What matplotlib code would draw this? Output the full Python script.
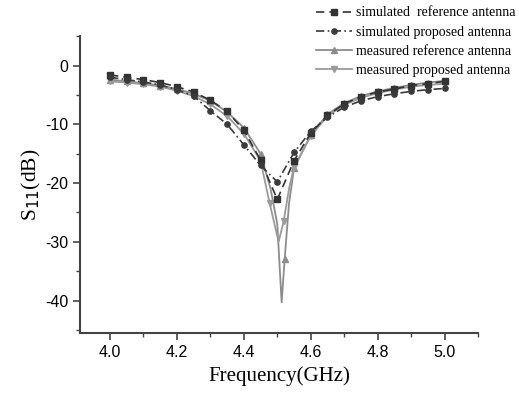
import matplotlib
matplotlib.use("Agg")
import matplotlib.pyplot as plt
from matplotlib.ticker import MultipleLocator

plt.rcParams["axes.unicode_minus"] = False

# Simulated data (0.05 GHz step)
freq_sim = [4.00, 4.05, 4.10, 4.15, 4.20, 4.25, 4.30, 4.35, 4.40, 4.45, 4.50,
            4.55, 4.60, 4.65, 4.70, 4.75, 4.80, 4.85, 4.90, 4.95, 5.00]
sim_ref = [-1.6, -2.0, -2.4, -2.9, -3.6, -4.5, -5.9, -7.8, -11.0, -16.1, -22.8,
           -16.2, -11.5, -8.5, -6.5, -5.3, -4.5, -4.0, -3.4, -3.1, -2.7]
sim_prop = [-2.0, -2.4, -2.8, -3.3, -4.1, -5.2, -7.7, -10.0, -13.5, -17.0, -19.8,
            -14.8, -11.2, -8.8, -7.1, -6.0, -5.3, -4.8, -4.4, -4.1, -3.9]

# Measured data
freq_meas_ref = [4.00, 4.05, 4.10, 4.15, 4.20, 4.25, 4.30, 4.35, 4.40, 4.45, 4.48,
                 4.50, 4.513, 4.522, 4.535, 4.55, 4.60, 4.65, 4.70, 4.75, 4.80,
                 4.85, 4.90, 4.95, 5.00]
meas_ref = [-2.4, -2.7, -3.0, -3.4, -4.0, -4.8, -6.0, -7.9, -10.6, -15.0, -21.0,
            -27.0, -40.3, -33.0, -23.5, -17.5, -11.8, -8.3, -6.4, -5.2, -4.4,
            -3.8, -3.3, -2.9, -2.6]
meas_ref_markers = [0, 1, 2, 3, 4, 5, 6, 7, 8, 9, 13, 15, 16, 17, 18, 19, 20, 21, 22, 23, 24]

freq_meas_prop = [4.00, 4.05, 4.10, 4.15, 4.20, 4.25, 4.30, 4.35, 4.40, 4.45, 4.477,
                  4.504, 4.519, 4.535, 4.55, 4.60, 4.65, 4.70, 4.75, 4.80,
                  4.85, 4.90, 4.95, 5.00]
meas_prop = [-2.7, -2.9, -3.2, -3.6, -4.3, -5.2, -6.6, -8.6, -11.6, -16.2, -23.4,
             -30.0, -26.5, -21.0, -17.3, -12.0, -8.6, -6.7, -5.5, -4.7,
             -4.1, -3.6, -3.3, -3.1]
meas_prop_markers = [0, 1, 2, 3, 4, 5, 6, 7, 8, 10, 12, 14, 15, 16, 17, 18, 19, 20, 21, 22, 23]

labels = ["simulated  reference antenna", "simulated proposed antenna",
          "measured reference antenna", "measured proposed antenna"]

fig = plt.figure(figsize=(5.19, 3.93), dpi=100)
ax = fig.add_axes([0.154, 0.153, 0.767, 0.755])

ax.plot(freq_meas_ref, meas_ref, color="#8c8c8c", lw=1.3, marker="^", ms=4,
        markevery=meas_ref_markers, label=labels[2], zorder=2)
ax.plot(freq_meas_prop, meas_prop, color="#9a9a9a", lw=1.3, marker="v", ms=4,
        markevery=meas_prop_markers, label=labels[3], zorder=2)
ax.plot(freq_sim, sim_ref, color="#333333", lw=1.2, ls=(0, (5, 3)), marker="s",
        ms=3.8, label=labels[0], zorder=3)
ax.plot(freq_sim, sim_prop, color="#3a3a3a", lw=1.2, ls=(0, (5, 2, 1, 2)), marker="o",
        ms=3.8, label=labels[1], zorder=3)

ax.set_xlim(3.91, 5.1)
ax.set_ylim(-45.5, 5)
ax.xaxis.set_major_locator(MultipleLocator(0.2))
ax.xaxis.set_minor_locator(MultipleLocator(0.1))
ax.yaxis.set_major_locator(MultipleLocator(10))
ax.yaxis.set_minor_locator(MultipleLocator(5))
ax.set_xticks([4.0, 4.2, 4.4, 4.6, 4.8, 5.0])
ax.set_xticklabels(["4.0", "4.2", "4.4", "4.6", "4.8", "5.0"])

for s in ["top", "right"]:
    ax.spines[s].set_visible(False)
for s in ["left", "bottom"]:
    ax.spines[s].set_color("#444444")
    ax.spines[s].set_linewidth(1.5)

ax.tick_params(which="major", direction="out", length=5, width=1.2, color="#444444",
               labelsize=11.5)
ax.tick_params(which="minor", direction="out", length=3, width=1.0, color="#444444")
for lab in ax.get_xticklabels() + ax.get_yticklabels():
    lab.set_family("Liberation Sans")

ax.set_xlabel("Frequency(GHz)", family="Liberation Serif", fontsize=15, labelpad=5)
ax.set_ylabel("S$_{11}$(dB)", family="Liberation Serif", fontsize=15.5, labelpad=1)

h, l = ax.get_legend_handles_labels()
order = [2, 3, 0, 1]
leg = fig.legend([h[i] for i in order], [l[i] for i in order], loc="upper right",
                 bbox_to_anchor=(1.01, 1.005), frameon=False,
                 prop={"family": "Liberation Serif", "size": 10},
                 handlelength=2.6, handletextpad=0.3, labelspacing=0.45,
                 borderaxespad=0.2)

fig.savefig("out.png", dpi=100)
